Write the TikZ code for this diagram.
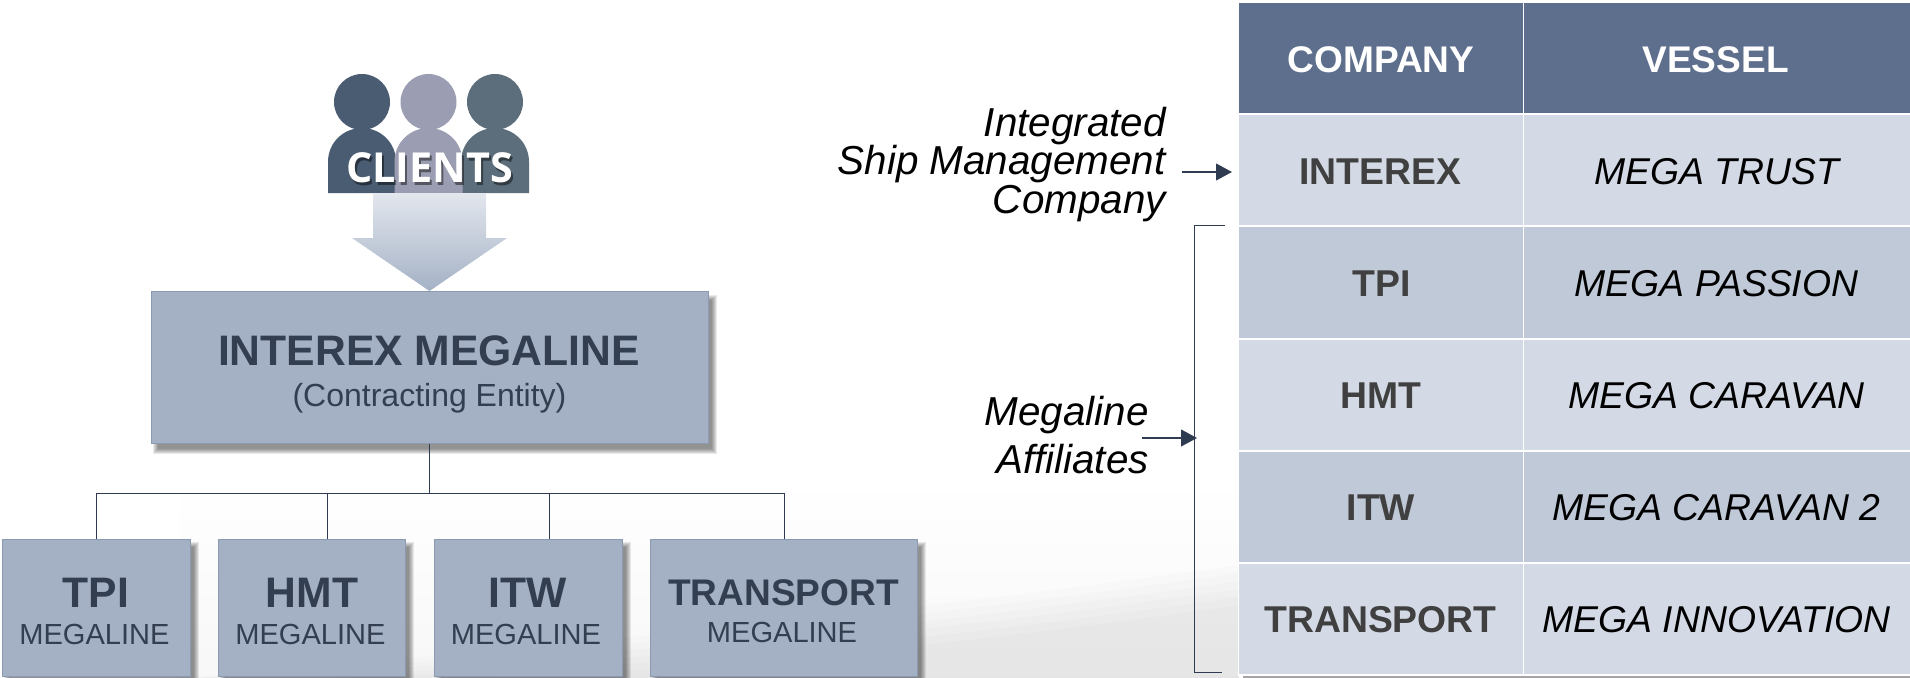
\documentclass[tikz,border=0pt]{standalone}
\usepackage{fontspec}
\setmainfont{Liberation Sans}
\newfontfamily\clientfont{Open Sans}
\usetikzlibrary{arrows.meta,calc}
\definecolor{boxfill}{HTML}{A4B1C5}
\definecolor{boxedge}{HTML}{8A9AB3}
\definecolor{inkdark}{HTML}{333F50}
\definecolor{headfill}{HTML}{5E6F8D}
\definecolor{rowlight}{HTML}{D4DAE5}
\definecolor{rowdark}{HTML}{BFC9D7}
\definecolor{celltext}{HTML}{404040}
\definecolor{linecol}{HTML}{2F3B50}
\definecolor{persona}{HTML}{4A5C72}
\definecolor{personb}{HTML}{9B9EB3}
\definecolor{personc}{HTML}{5C6E7B}
\definecolor{arrowtop}{HTML}{E3E7EE}
\tikzset{
  x=0.75pt,y=-0.75pt,
  orgbox/.style={draw=boxedge,line width=0.9pt,fill=boxfill,inner sep=0pt,anchor=north west},
  cellbox/.style={draw=white,line width=1.3pt,inner sep=0pt,anchor=north west},
  wire/.style={draw=linecol,line width=0.7pt},
  pointer/.style={draw=linecol,line width=1.5pt,-{Triangle[length=12pt,width=12.5pt]}},
  sidenote/.style={inner sep=0pt,align=right,anchor=base east,text=black,font=\fontsize{30.3}{29}\selectfont\itshape},
  mainhead/.style={inner sep=0pt,anchor=base,text=inkdark,font=\fontsize{32}{32}\selectfont\bfseries},
  subhead/.style={inner sep=0pt,anchor=base,text=inkdark,font=\fontsize{21.8}{22}\selectfont},
  companytext/.style={inner sep=0pt,anchor=base,text=celltext,font=\fontsize{28}{32}\selectfont\bfseries},
  vesseltext/.style={inner sep=0pt,anchor=base,text=black,font=\fontsize{28}{32}\selectfont\itshape},
  headtext/.style={inner sep=0pt,anchor=base,text=white,font=\fontsize{27.8}{32}\selectfont\bfseries}
}
\newcommand{\softshadow}[4]{%
  \foreach \s in {0,1,...,5}{
    \fill[black,opacity=0.085] ({#1+2+\s},{#2+3+\s}) rectangle ({#3+9-\s},{#4+10-\s});
  }}
\newcommand{\person}[2]{%
  \fill[#1] (#2,102) circle[radius=28];
  \fill[#1] ({#2-34},193) -- ({#2-34},162) .. controls ({#2-34},142) and ({#2-18},128) .. (#2,128)
     .. controls ({#2+18},128) and ({#2+34},142) .. ({#2+34},162) -- ({#2+34},193) -- cycle;
}
\begin{document}
\begin{tikzpicture}
\useasboundingbox (0,0) rectangle (1910,678);
\fill[white] (0,0) rectangle (1910,678);
% background
\shade[top color=white,bottom color=black!3] (180,480) rectangle (1239,678);
\foreach \d in {0,8,...,40}{
  \fill[black,opacity=0.012] (190,678) .. controls (500,{650+\d}) and (850,{620+\d}) .. (1239,{565+\d}) -- (1239,678) -- cycle;
}
% clients
\person{persona}{362}
\person{personc}{495}
\person{personb}{428.5}
\shade[top color=arrowtop,bottom color=boxfill]
  (373,193) -- (486,193) -- (486,238) -- (507,238) -- (429.5,291) -- (352,238) -- (373,238) -- cycle;
\node[inner sep=0pt,anchor=base,text=black,opacity=.45,font=\clientfont\fontsize{31}{32}\selectfont\bfseries] (clientsShadow) at (431.5,185) {CLIENTS};
\node[inner sep=0pt,anchor=base,text=white,font=\clientfont\fontsize{31}{32}\selectfont\bfseries] (clients) at (429.5,182) {CLIENTS};
% organisation boxes
\softshadow{151}{292}{708}{444}
\softshadow{2}{539}{190}{676}
\softshadow{218}{539}{405}{676}
\softshadow{434}{539}{622}{676}
\softshadow{650}{539}{917}{676}
\node[orgbox,minimum width=557*0.75pt,minimum height=152*0.75pt] (main) at (151,291) {};
\node[orgbox,minimum width=188*0.75pt,minimum height=137*0.75pt] (tpi) at (1.5,539) {};
\node[orgbox,minimum width=187*0.75pt,minimum height=137*0.75pt] (hmt) at (217.5,539) {};
\node[orgbox,minimum width=188*0.75pt,minimum height=137*0.75pt] (itw) at (433.5,539) {};
\node[orgbox,minimum width=267*0.75pt,minimum height=137*0.75pt] (transport) at (649.5,539) {};
\node[mainhead] (mainT) at (429,365) {INTEREX MEGALINE};
\node[inner sep=0pt,anchor=base,text=inkdark,font=\fontsize{24}{26}\selectfont] (mainS) at (429.5,406) {(Contracting Entity)};
\node[mainhead] (tpiT) at (96,607) {TPI};
\node[subhead] (tpiS) at (94.5,644) {MEGALINE};
\node[mainhead] (hmtT) at (312,607) {HMT};
\node[subhead] (hmtS) at (310.5,644) {MEGALINE};
\node[mainhead] (itwT) at (528,607) {ITW};
\node[subhead] (itwS) at (526,644) {MEGALINE};
\node[mainhead,font=\fontsize{27.8}{30}\selectfont\bfseries] (transportT) at (783.5,605) {TRANSPORT};
\node[subhead] (transportS) at (782,642) {MEGALINE};
% connectors
\coordinate (busM) at (429.5,493);
\coordinate (busA) at (96,493);
\coordinate (busB) at (327.5,493);
\coordinate (busC) at (549.5,493);
\coordinate (busD) at (784.5,493);
\draw[wire] (main.south -| busM) -- (busM);
\draw[wire] (busA) -- (busD);
\draw[wire] (busA) -- (busA |- tpi.north);
\draw[wire] (busB) -- (busB |- hmt.north);
\draw[wire] (busC) -- (busC |- itw.north);
\draw[wire] (busD) -- (busD |- transport.north);
% table
\fill[black,opacity=.35] (1243,675) rectangle (1910,678);
\foreach \nm/\col/\xa/\w/\ya/\h in {
  hc/headfill/1237.5/285/1/112, hv/headfill/1522.5/388/1/112,
  ac/rowlight/1237.5/285/113/112, av/rowlight/1522.5/388/113/112,
  bc/rowdark/1237.5/285/225/113, bv/rowdark/1522.5/388/225/113,
  cc/rowlight/1237.5/285/338/112, cv/rowlight/1522.5/388/338/112,
  dc/rowdark/1237.5/285/450/112, dv/rowdark/1522.5/388/450/112,
  ec/rowlight/1237.5/285/562/112, ev/rowlight/1522.5/388/562/112}{
  \node[cellbox,fill=\col,minimum width=\w*0.75pt,minimum height=\h*0.75pt] (\nm) at (\xa,\ya) {};
}
\node[headtext] (t1) at (1381,72) {COMPANY};
\node[headtext] (t2) at (1715.5,72) {VESSEL};
\node[companytext] (t3) at (1380,184) {INTEREX};
\node[vesseltext] (t4) at (1717,184) {MEGA TRUST};
\node[companytext] (t5) at (1381.5,296) {TPI};
\node[vesseltext] (t6) at (1716.5,296) {MEGA PASSION};
\node[companytext] (t7) at (1381,408) {HMT};
\node[vesseltext] (t8) at (1716.5,408) {MEGA CARAVAN};
\node[companytext] (t9) at (1381,520) {ITW};
\node[vesseltext] (t10) at (1716.5,520) {MEGA CARAVAN 2};
\node[companytext] (t11) at (1380.5,632) {TRANSPORT};
\node[vesseltext] (t12) at (1716.5,632) {MEGA INNOVATION};
% notes
\node[sidenote] (n1) at (1166,136) {Integrated};
\node[sidenote] (n2) at (1166,174) {Ship Management};
\node[sidenote] (n3) at (1166,213) {Company};
\node[sidenote] (n4) at (1149,425) {Megaline};
\node[sidenote] (n5) at (1149,473) {Affiliates};
\coordinate (ptA) at (1182,172);
\coordinate (ptB) at (1232,172);
\coordinate (ptC) at (1142,438);
\coordinate (ptD) at (1197,438);
\coordinate (brA) at (1225,225);
\coordinate (brB) at (1194,225);
\coordinate (brC) at (1194,672);
\coordinate (brD) at (1222,672);
\draw[wire] (brA) -- (brB) -- (brC) -- (brD);
\draw[pointer] (ptA) -- (ptB);
\draw[pointer] (ptC) -- (ptD);
\end{tikzpicture}
\end{document}
